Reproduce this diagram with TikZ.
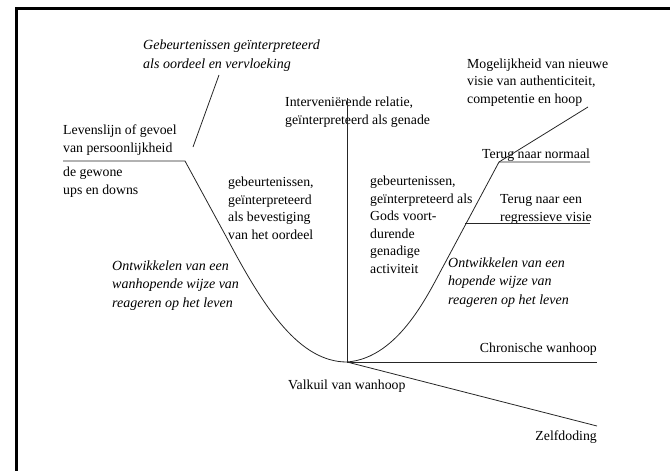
\documentclass[tikz,border=0pt]{standalone}
\usepackage{fontspec}
\setmainfont{Liberation Serif}
\begin{document}
\begin{tikzpicture}[x=1pt,y=-1pt,
  lbl/.style={inner sep=0pt,anchor=base west,align=left,font=\fontsize{13.8}{17.5}\selectfont},
  lblr/.style={inner sep=0pt,anchor=base east,align=right,font=\fontsize{13.8}{17.5}\selectfont},
  itl/.style={inner sep=0pt,anchor=base west,align=left,font=\fontsize{14}{18.5}\selectfont\itshape},
  ln/.style={line width=0.8pt,black!85},
  frame/.style={line width=3pt,black}]
\useasboundingbox (0,0) rectangle (670,471);
% frame
\draw[frame] (16,471) -- (16,8) -- (670,8);
% texts (anchors at the baseline of the last line)
\node[itl] (geb) at (143,68) {Gebeurtenissen geïnterpreteerd\\als oordeel en vervloeking};
\node[lbl] (leven) at (63,152) {Levenslijn of gevoel\\van persoonlijkheid};
\node[lbl] (ups) at (63,194) {de gewone\\ups en downs};
\node[lbl] (bev) at (228,239) {gebeurtenissen,\\geïnterpreteerd\\als bevestiging\\van het oordeel};
\node[itl] (wanh) at (112,307) {Ontwikkelen van een\\wanhopende wijze van\\reageren op het leven};
\node[lbl] (interv) at (285,124) {Interveniërende relatie,\\geïnterpreteerd als genade};
\node[lbl] (gods) at (370,273) {gebeurtenissen,\\geïnterpreteerd als\\Gods voort-\\durende\\genadige\\activiteit};
\node[itl] (hoop) at (448,304) {Ontwikkelen van een\\hopende wijze van\\reageren op het leven};
\node[lbl] (mog) at (467,103) {Mogelijkheid van nieuwe\\visie van authenticiteit,\\competentie en hoop};
\node[lbl] (norm) at (482,158) {Terug naar normaal};
\node[lbl] (regr) at (500,221) {Terug naar een\\regressieve visie};
\node[lblr] (chron) at (597,352) {Chronische wanhoop};
\node[lbl] (valk) at (288,389) {Valkuil van wanhoop};
\node[lblr] (zelf) at (597,440) {Zelfdoding};
% coordinates
\coordinate (gebA) at (219,75);
\coordinate (gebB) at (193,147);
\coordinate (lvA) at (63,161);
\coordinate (lvB) at (185,161);
\coordinate (lvC) at (228,240);
\coordinate (bottom) at (347,362);
\coordinate (rC) at (445,263);
\coordinate (top) at (499,162);
\coordinate (normE) at (590,162);
\coordinate (mogE) at (588,107);
\coordinate (regA) at (465,223);
\coordinate (regE) at (590,223);
\coordinate (vtop) at (347,98);
\coordinate (chrE) at (597,362);
\coordinate (zelfE) at (597,426);
% lines
\draw[ln] (gebA) -- (gebB);
\draw[ln] (lvA) -- (lvB) -- (lvC) .. controls (265,310) and (300,362) .. (bottom)
  .. controls (400,358) and (430,290) .. (rC) -- (top) -- (normE);
\draw[ln] (top) -- (mogE);
\draw[ln] (regA) -- (regE);
\draw[ln] (vtop) -- (bottom);
\draw[ln] (bottom) -- (chrE);
\draw[ln] (bottom) -- (zelfE);
\end{tikzpicture}
\end{document}
